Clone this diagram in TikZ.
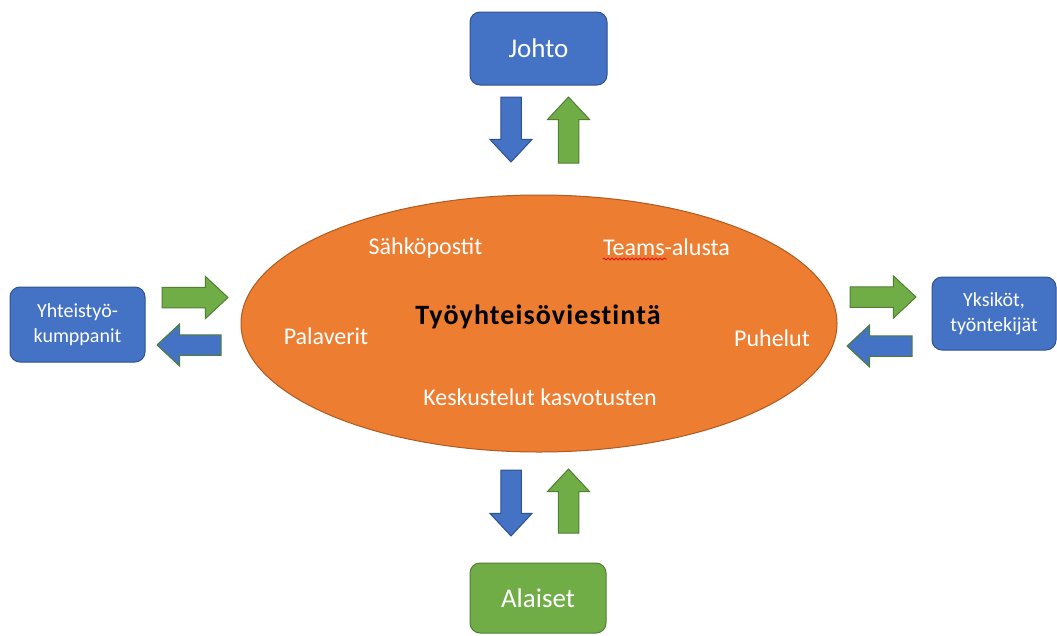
\documentclass[tikz,border=0pt]{standalone}
\usepackage{fontspec}
\setmainfont{Carlito}
\usetikzlibrary{shapes.geometric,shapes.arrows,decorations.pathmorphing}
\definecolor{oblue}{HTML}{4472C4}
\definecolor{oblueline}{HTML}{2F528F}
\definecolor{ogreen}{HTML}{70AD47}
\definecolor{ogreenline}{HTML}{507E32}
\definecolor{oorange}{HTML}{ED7D31}
\definecolor{oorangeline}{HTML}{AE5A21}
\begin{document}
\begin{tikzpicture}[x=1pt,y=-1pt,
  box/.style={rounded corners=10pt, line width=1pt, text=white, align=center, inner sep=0pt},
  bluebox/.style={box, fill=oblue, draw=oblueline},
  greenbox/.style={box, fill=ogreen, draw=ogreenline},
  bigtext/.style={font=\fontsize{27}{32}\selectfont},
  smalltext/.style={font=\fontsize{20}{25}\selectfont},
  intext/.style={text=white, font=\fontsize{24}{28}\selectfont, anchor=base, inner sep=0pt},
  blockarrow/.style={single arrow, inner xsep=0pt, inner ysep=9.75pt,
     single arrow head extend=10.75pt, single arrow tip angle=86,
     line width=1pt, anchor=tail, outer sep=0pt},
  bluearrow/.style={blockarrow, fill=oblue, draw=oblueline},
  bluearrowg/.style={blockarrow, fill=oblue, draw=ogreenline},
  greenarrow/.style={blockarrow, fill=ogreen, draw=ogreenline}
]
\useasboundingbox (0,0) rectangle (1057,635);

% central ellipse
\node[ellipse, fill=oorange, draw=oorangeline, line width=1pt,
      minimum width=596pt, minimum height=257pt] (center) at (539,323.5) {};

% boxes
\node[bluebox, bigtext, minimum width=137pt, minimum height=73pt] (johto) at (538.5,48.5) {Johto};
\node[greenbox, bigtext, minimum width=136pt, minimum height=70pt] (alaiset) at (538,598) {Alaiset};
\node[bluebox, smalltext, minimum width=135pt, minimum height=75pt] (yht) at (77.5,324.5) {Yhteistyö-\\kumppanit};
\node[bluebox, smalltext, minimum width=124pt, minimum height=73pt] (yks) at (994,313.5) {Yksiköt,\\työntekijät};

% texts inside ellipse
\node[anchor=base, inner sep=0pt, font=\fontsize{28}{32}\selectfont\bfseries\addfontfeature{LetterSpace=4,Ligatures=NoCommon}] (title) at (538,324) {Työyhteisöviestintä};
\node[intext] (sahko) at (425.5,254) {Sähköpostit};
\node[intext] (teams) at (666.5,255) {Teams-alusta};
\node[intext] (palaverit) at (326,344) {Palaverit};
\node[intext] (puhelut) at (772,346) {Puhelut};
\node[intext] (kesk) at (540,405) {Keskustelut kasvotusten};
\draw[red!85!black, line width=0.7pt, decorate, decoration={snake, amplitude=1pt, segment length=4pt}]
  (teams.base west) ++(0,4) coordinate (w1) -- ++(64,0) coordinate (w2);

% block arrows top
\node[bluearrow, rotate=-90, minimum height=65pt] (a1) at (511,97) {};
\node[greenarrow, rotate=90, minimum height=66pt] (a2) at (568.5,163) {};
% bottom
\node[bluearrow, rotate=-90, minimum height=66pt] (a3) at (511,470) {};
\node[greenarrow, rotate=90, minimum height=64pt] (a4) at (568.5,533) {};
% left
\node[greenarrow, minimum height=66pt] (a5) at (162,297.5) {};
\node[bluearrowg, rotate=180, minimum height=64pt] (a6) at (221,345) {};
% right
\node[greenarrow, minimum height=66pt] (a7) at (850,297) {};
\node[bluearrowg, rotate=180, minimum height=65pt] (a8) at (912,346) {};
\end{tikzpicture}
\end{document}
